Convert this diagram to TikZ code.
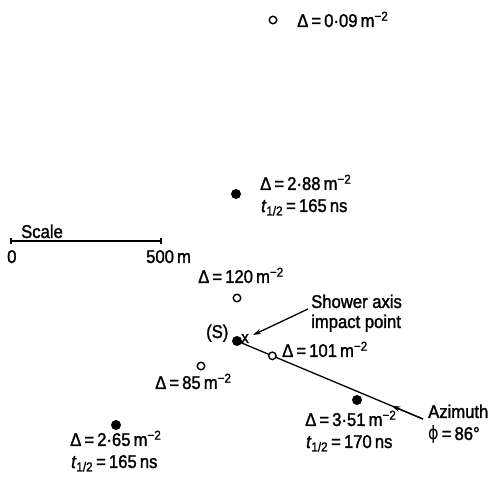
\documentclass[tikz,border=0pt]{standalone}
\usepackage{fontspec}
\setmainfont{Liberation Sans}[FakeStretch=0.9,FakeBold=1.5]
\newfontfamily\dvs{DejaVu Sans}[FakeStretch=0.86]
\usetikzlibrary{arrows.meta,calc}
\tikzset{
  opendot/.style={circle,draw,line width=1.4pt,inner sep=0pt,minimum size=7.5pt},
  fulldot/.style={circle,fill,inner sep=0pt,minimum size=10pt},
  lbl/.style={anchor=base west,inner sep=0pt,font=\fontsize{18.5}{21}\selectfont},
  ln/.style={line width=1.3pt},
}
\newcommand{\msq}{\,m\textsuperscript{−2}}
\newcommand{\thalf}{\textit{t}\textsubscript{1/2}}
\begin{document}
\begin{tikzpicture}[x=1pt,y=-1pt]
\useasboundingbox (0,0) rectangle (488,478);
% top
\node[opendot] (c1) at (273,20) {};
\node[lbl] (l1) at (297,27) {Δ\,=\,0·09\msq};
% 2.88
\node[fulldot] (d1) at (236,194) {};
\node[lbl] (l2) at (260,190) {Δ\,=\,2·88\msq};
\node[lbl] (l2b) at (261,212) {\thalf\,=\,165\,ns};
% scale
\coordinate (s0) at (11,241);
\coordinate (s1) at (161,241);
\draw[ln] (s0) -- (s1);
\draw[ln] ($(s0)+(0,-3)$) -- ($(s0)+(0,3)$);
\draw[ln] ($(s1)+(0,-3)$) -- ($(s1)+(0,3)$);
\node[lbl] (sc) at (21,238) {Scale};
\node[lbl] (z0) at (7,263) {0};
\node[lbl] (z5) at (146,263) {500\,m};
% 120
\node[lbl] (l3) at (198,283) {Δ\,=\,120\msq};
\node[opendot] (c3) at (237,298) {};
% S
\node[lbl] (sl) at (206,338) {(S)};
\node[fulldot] (S) at (237,341) {};
\node[anchor=base west,inner sep=0pt,font=\fontsize{17}{19}\selectfont] (xm) at (241,343) {x};
\node[lbl] (sh1) at (311,308) {Shower axis};
\node[lbl] (sh2) at (311,328) {impact point};
\coordinate (ashs) at (308,309);
\coordinate (ashe) at (253,335);
\draw[ln,-{Stealth[length=8pt,width=5pt]}] (ashs) -- (ashe);
% axis line
\coordinate (axend) at (423,419);
\draw[ln] (S.center) -- (axend);
\draw[ln,-{Stealth[length=9pt,width=5.5pt]}] (axend) -- ($(axend)!0.17!(S.center)$);
% 101
\node[opendot,fill=white] (c4) at ($(S.center)!0.19!(axend)$) {};
\node[lbl] (l4) at (282,357) {Δ\,=\,101\msq};
% 85
\node[opendot] (c5) at (201,366) {};
\node[lbl] (l5) at (155,389) {Δ\,=\,85\,m\textsuperscript{−2}};
% 3.51
\node[fulldot] (d2) at (357,400) {};
\node[lbl] (l6) at (305,426) {Δ\,=\,3·51\msq};
\node[lbl] (l6b) at (306,448) {\thalf\,=\,170\,ns};
% azimuth
\node[lbl] (az) at (428,418) {Azimuth};
\node[lbl] (phi) at (428,440) {{\dvs ϕ}\,=\,86°};
% 2.65
\node[fulldot] (d3) at (116,425) {};
\node[lbl] (l7) at (70,446) {Δ\,=\,2·65\msq};
\node[lbl] (l7b) at (71,468) {\thalf\,=\,165\,ns};
\end{tikzpicture}
\end{document}
